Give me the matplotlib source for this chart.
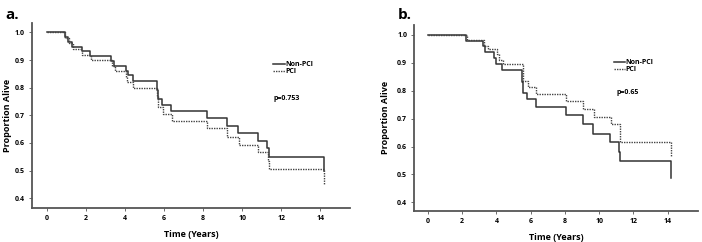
import matplotlib
matplotlib.use("Agg")
import matplotlib.pyplot as plt

# Panel a data (step times and survival after each step)
a_non_t = [0, 0.89, 1.06, 1.28, 1.78, 2.2, 3.28, 3.42, 4.02, 4.14, 4.39, 5.64, 5.68, 5.88, 6.36, 8.19, 9.2, 9.81, 10.82, 11.3, 11.36, 14.22]
a_non_s = [1.0, 0.983, 0.966, 0.948, 0.931, 0.914, 0.897, 0.879, 0.862, 0.845, 0.826, 0.79, 0.76, 0.739, 0.716, 0.689, 0.663, 0.636, 0.608, 0.58, 0.551, 0.50]
a_pci_t = [0, 0.92, 1.1, 1.3, 1.8, 2.25, 3.35, 3.47, 4.05, 4.12, 4.42, 5.64, 5.7, 5.92, 6.42, 8.22, 9.22, 9.83, 10.84, 11.32, 11.4, 14.22]
a_pci_s = [1.0, 0.98, 0.96, 0.94, 0.92, 0.90, 0.88, 0.86, 0.84, 0.82, 0.80, 0.77, 0.73, 0.705, 0.681, 0.653, 0.623, 0.594, 0.566, 0.535, 0.505, 0.45]
a_p = "p=0.753"

# Panel b data
b_non_t = [0, 2.25, 3.2, 3.36, 3.88, 4.0, 4.3, 5.52, 5.58, 5.8, 6.3, 8.05, 9.03, 9.64, 10.66, 11.16, 11.22, 14.22]
b_non_s = [1.0, 0.979, 0.958, 0.938, 0.917, 0.896, 0.875, 0.83, 0.792, 0.769, 0.743, 0.712, 0.68, 0.646, 0.617, 0.58, 0.548, 0.488]
b_pci_t = [0, 2.28, 3.25, 3.5, 4.02, 4.15, 4.38, 5.58, 5.83, 6.33, 8.08, 9.06, 9.67, 10.69, 11.2, 14.22]
b_pci_s = [1.0, 0.981, 0.96, 0.949, 0.93, 0.91, 0.896, 0.835, 0.812, 0.789, 0.763, 0.735, 0.707, 0.68, 0.617, 0.567]
b_p = "p=0.65"

x_ticks = [0, 2, 4, 6, 8, 10, 12, 14]
y_ticks = [0.4, 0.5, 0.6, 0.7, 0.8, 0.9, 1.0]
series_labels = ["Non-PCI", "PCI"]

plt.rcParams['font.family'] = ['Open Sans', 'DejaVu Sans']

fig = plt.figure(figsize=(7.02, 2.42), dpi=100)
ax_a = fig.add_axes([0.045, 0.142, 0.454, 0.764])
ax_b = fig.add_axes([0.590, 0.129, 0.405, 0.768])

spine_c = '#555555'

def style(ax, xmax, ymin, ylpad):
    for s in ['top', 'right']:
        ax.spines[s].set_visible(False)
    for s in ['left', 'bottom']:
        ax.spines[s].set_color(spine_c)
        ax.spines[s].set_linewidth(1.3)
    ax.set_xlim(-0.8, xmax)
    ax.set_ylim(ymin, 1.035)
    ax.set_xticks(x_ticks)
    ax.set_yticks(y_ticks)
    ax.set_yticklabels([f"{v:.1f}" for v in y_ticks])
    ax.tick_params(axis='both', labelsize=5, length=2, width=0.6, color=spine_c, pad=3)
    for lab in ax.get_xticklabels() + ax.get_yticklabels():
        lab.set_fontweight('bold')
    ax.set_xlabel("Time (Years)", fontsize=6.5, fontweight='bold', labelpad=6)
    ax.set_ylabel("Proportion Alive", fontsize=6.5, fontweight='bold', labelpad=ylpad)

def draw(ax, nt, ns, pt, ps, ptxt, legx, legy, px, py, xmax, ymin, ylpad):
    ax.step(nt, ns, where='post', color='#333333', lw=1.1, label=series_labels[0])
    ax.step(pt, ps, where='post', color='#444444', lw=1.0, ls=(0, (1, 0.8)), label=series_labels[1])
    style(ax, xmax, ymin, ylpad)
    ax.legend(loc='upper left', bbox_to_anchor=(legx, legy), frameon=False,
              handlelength=1.6, handletextpad=0.1, labelspacing=0.0, borderpad=0,
              prop={'weight': 'bold', 'size': 5})
    ax.text(px, py, ptxt, fontsize=5, fontweight='bold', transform=ax.transData)

draw(ax_a, a_non_t, a_non_s, a_pci_t, a_pci_s, a_p, 0.748, 0.81, 11.6, 0.755, 15.55, 0.366, 2)
draw(ax_b, b_non_t, b_non_s, b_pci_t, b_pci_s, b_p, 0.69, 0.835, 11.0, 0.787, 15.8, 0.37, 5)

fig.text(0.008, 0.92, "a.", fontsize=11, fontweight='bold')
fig.text(0.566, 0.92, "b.", fontsize=11, fontweight='bold')

fig.savefig("out.png", dpi=100)
